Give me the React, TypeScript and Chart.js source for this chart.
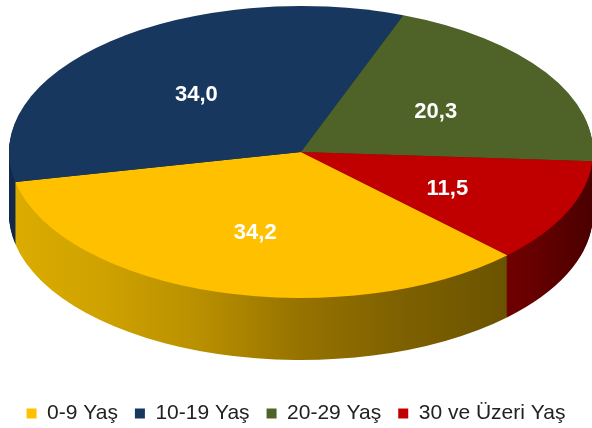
import React, { useEffect, useRef } from "react";
import { Chart, registerables } from "chart.js";

Chart.register(...registerables);

const CATEGORIES = ["0-9 Yaş", "10-19 Yaş", "20-29 Yaş", "30 ve Üzeri Yaş"];
const VALUES = [34.2, 34.0, 20.3, 11.5];
const TOP_COLORS = ["#FFC000", "#17375E", "#4F6228", "#C00000"];
const SIDE_STOPS: [number, string][][] = [
  [[0, "#DCAC00"], [0.16, "#CFA200"], [0.33, "#B88F00"], [0.5, "#967200"], [0.67, "#7E6100"], [0.86, "#6A5200"], [1, "#5E4800"]],
  [[0, "#12294A"], [1, "#0A1A30"]],
  [[0, "#3E4E1E"], [1, "#2A3612"]],
  [[0, "#A80000"], [0.8, "#7A0000"], [0.9, "#660000"], [1, "#4A0000"]],
];

// ellipse geometry of the 3D pie (screen px)
const GEO = { cx: 301, cy: 152, rx: 292, ry: 146, depth: 62, labelFrac: 0.55 };

const pie3d = {
  id: "pie3d",
  beforeDatasetsDraw(chart: any) {
    const meta = chart.getDatasetMeta(0);
    const arcs = meta.data as any[];
    if (!arcs.length) return;
    const p = arcs[0].getProps(["x", "y", "outerRadius"], true);
    const cx = p.x, cy = p.y, R = p.outerRadius;
    const ctx = chart.ctx as CanvasRenderingContext2D;
    const sx = GEO.rx / R, sy = GEO.ry / R;
    const fills = SIDE_STOPS.map((stops) => {
      const g = ctx.createLinearGradient(cx - R, 0, cx + R, 0);
      stops.forEach(([o, c]) => g.addColorStop(o, c));
      return g;
    });
    const drawWith = (arc: any, fill: any) => {
      const proxy = Object.create(arc);
      proxy.options = { ...arc.options, backgroundColor: fill, borderWidth: 0 };
      proxy.draw(ctx);
    };
    for (let d = GEO.depth; d >= 1; d--) {
      ctx.save();
      ctx.translate(GEO.cx, GEO.cy + d);
      ctx.scale(sx, sy);
      ctx.translate(-cx, -cy);
      arcs.forEach((arc, i) => drawWith(arc, fills[i]));
      ctx.restore();
    }
    ctx.save();
    ctx.translate(GEO.cx, GEO.cy);
    ctx.scale(sx, sy);
    ctx.translate(-cx, -cy);
    arcs.forEach((arc, i) => drawWith(arc, TOP_COLORS[i]));
    ctx.restore();

    // value labels
    ctx.save();
    ctx.fillStyle = "#FFFFFF";
    ctx.font = "bold 22px 'Liberation Sans', Arial, sans-serif";
    ctx.textAlign = "center";
    ctx.textBaseline = "middle";
    arcs.forEach((arc, i) => {
      const a = arc.getProps(["startAngle", "endAngle"], true);
      const mid = (a.startAngle + a.endAngle) / 2;
      const x = GEO.cx + Math.cos(mid) * GEO.rx * GEO.labelFrac;
      const y = GEO.cy + 4 + Math.sin(mid) * GEO.ry * GEO.labelFrac;
      ctx.fillText(VALUES[i].toFixed(1).replace(".", ","), x, y);
    });
    ctx.restore();
    return false;
  },
};

export default function App() {
  const ref = useRef<HTMLCanvasElement | null>(null);
  useEffect(() => {
    if (!ref.current) return;
    const chart = new Chart(ref.current, {
      type: "pie",
      data: {
        labels: CATEGORIES,
        datasets: [
          {
            data: VALUES,
            backgroundColor: TOP_COLORS,
            borderWidth: 0,
          },
        ],
      },
      options: {
        animation: false,
        responsive: false,
        maintainAspectRatio: false,
        rotation: 135,
        events: [],
        plugins: {
          tooltip: { enabled: false },
          legend: {
            position: "bottom",
            labels: {
              boxWidth: 10,
              boxHeight: 10,
              padding: 17,
              color: "#222222",
              font: { family: "'Liberation Sans', Arial, sans-serif", size: 21 },
            },
          },
        },
      },
      plugins: [pie3d],
    });
    return () => chart.destroy();
  }, []);
  return (
    <div style={{ position: "fixed", left: 0, top: 0, width: 592, height: 434, background: "#fff" }}>
      <canvas ref={ref} width={592} height={434} style={{ display: "block", width: 592, height: 434 }} />
    </div>
  );
}
